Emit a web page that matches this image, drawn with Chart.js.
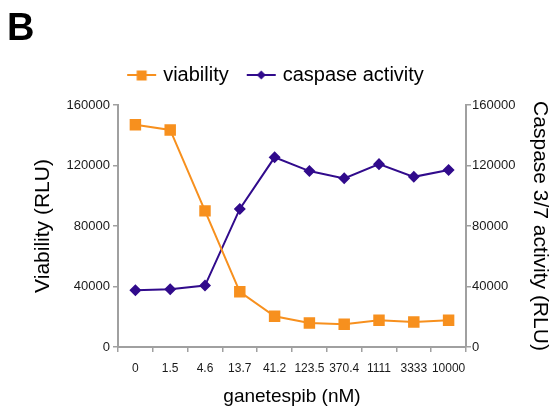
<!DOCTYPE html>
<html>
<head>
<meta charset="utf-8">
<script src="https://cdn.jsdelivr.net/npm/chart.js@4/dist/chart.umd.min.js"></script>
<style>
  html, body { margin: 0; padding: 0; background: #fff; }
  #wrap { width: 554px; height: 411px; position: relative; }
</style>
</head>
<body>
<div id="wrap"><canvas id="c" width="554" height="411"></canvas></div>
<script>
// Ganetespib dose series (nM) and luminescence readouts (RLU)
const doses = ['0', '1.5', '4.6', '13.7', '41.2', '123.5', '370.4', '1111', '3333', '10000'];
const viability = [147000, 143500, 90000, 36500, 20300, 15900, 15000, 17700, 16500, 17700];
const caspase = [37500, 38200, 40600, 91300, 125400, 116300, 111500, 120900, 112500, 117000];
const yTicks = [0, 40000, 80000, 120000, 160000];

const ORANGE = '#f7901e';
const PURPLE = '#310b8c';
const AXIS = '#a0a0a0';
const FONT = "'Liberation Sans', Arial, sans-serif";

// Legend swatch: a short line with the series marker on it (left part left transparent)
function swatch(color, style) {
  const c = document.createElement('canvas');
  c.width = 42; c.height = 16;
  const g = c.getContext('2d');
  g.strokeStyle = color; g.lineWidth = 2;
  g.beginPath(); g.moveTo(12, 8); g.lineTo(41, 8); g.stroke();
  g.fillStyle = color;
  if (style === 'rect') {
    g.fillRect(21.5, 3.5, 10, 10);
  } else {
    g.beginPath(); g.moveTo(26.5, 3.5); g.lineTo(31, 8); g.lineTo(26.5, 12.5); g.lineTo(22, 8); g.closePath(); g.fill();
  }
  return c;
}
const swatches = [swatch(ORANGE, 'rect'), swatch(PURPLE, 'diamond')];

// Extra room under the legend, and a small leftward nudge of the legend row
const legendSpacing = {
  id: 'legendSpacing',
  beforeLayout(chart) {
    const lg = chart.legend;
    if (lg && !lg._extraFit) {
      const orig = lg.fit.bind(lg);
      lg.fit = function () { orig(); this.height += 10; };
      lg._extraFit = true;
    }
  },
  afterLayout(chart) {
    const lg = chart.legend;
    if (lg) { lg.left -= 9; lg.right -= 9; }
  }
};

const yTickStyle = { color: '#1a1a1a', font: { family: FONT, size: 13 } };
const xTickStyle = { color: '#1a1a1a', font: { family: FONT, size: 12 } };
const plain = (v) => String(v);

new Chart(document.getElementById('c'), {
  type: 'line',
  data: {
    labels: doses,
    datasets: [
      {
        label: 'viability', data: viability, yAxisID: 'y',
        borderColor: ORANGE, backgroundColor: ORANGE, borderWidth: 2,
        pointStyle: 'rect', pointRadius: 6.7, pointHoverRadius: 6.7, tension: 0
      },
      {
        label: 'caspase activity', data: caspase, yAxisID: 'y1',
        borderColor: PURPLE, backgroundColor: PURPLE, borderWidth: 2,
        pointStyle: 'rectRot', pointRadius: 4.6, pointHoverRadius: 4.6, tension: 0
      }
    ]
  },
  plugins: [legendSpacing],
  options: {
    responsive: false,
    animation: false,
    layout: { padding: { left: 7, right: 0, top: 0, bottom: 0 } },
    plugins: {
      tooltip: { enabled: false },
      title: {
        display: true, text: 'B', align: 'start', color: '#000',
        font: { family: FONT, size: 38, weight: 'bold' },
        padding: { top: 7, bottom: 2.4 }
      },
      legend: {
        display: true, position: 'top',
        labels: {
          color: '#000', font: { family: FONT, size: 20 },
          usePointStyle: true, pointStyleWidth: 34, boxHeight: 16, padding: 10,
          generateLabels: (chart) => chart.data.datasets.map((d, i) => ({
            text: d.label, pointStyle: swatches[i], datasetIndex: i,
            fillStyle: d.borderColor, strokeStyle: d.borderColor, fontColor: '#000', lineWidth: 0
          }))
        }
      }
    },
    scales: {
      x: {
        offset: true,
        grid: { display: true, drawOnChartArea: false, drawTicks: true, tickLength: 5, color: AXIS, offset: true, lineWidth: 1.5 },
        border: { color: AXIS, width: 2 },
        ticks: { ...xTickStyle, padding: 9, maxRotation: 0, autoSkip: false },
        title: { display: true, text: 'ganetespib (nM)', color: '#000', font: { family: FONT, size: 19 }, padding: { top: 9, bottom: 2.6 } },
        afterFit: (s) => { s.height = 64; }
      },
      y: {
        position: 'left', min: 0, max: 160000,
        afterBuildTicks: (s) => { s.ticks = yTicks.map(v => ({ value: v })); },
        grid: { display: true, drawOnChartArea: false, tickLength: 5, color: AXIS, lineWidth: 1.5 },
        border: { color: AXIS, width: 2 },
        ticks: { ...yTickStyle, padding: 3, callback: plain },
        title: { display: true, text: 'Viability (RLU)', color: '#000', font: { family: FONT, size: 21 }, padding: { top: 23.4, bottom: 0 } },
        afterFit: (s) => { s.width = 111; }
      },
      y1: {
        position: 'right', min: 0, max: 160000,
        afterBuildTicks: (s) => { s.ticks = yTicks.map(v => ({ value: v })); },
        grid: { display: true, drawOnChartArea: false, tickLength: 5, color: AXIS, lineWidth: 1.5 },
        border: { color: AXIS, width: 2 },
        ticks: { ...yTickStyle, padding: 1, callback: plain },
        title: { display: true, text: 'Caspase 3/7 activity (RLU)', color: '#000', font: { family: FONT, size: 21 }, padding: { top: 1.4, bottom: 0 } },
        afterFit: (s) => { s.width = 88; }
      }
    }
  }
});
</script>
</body>
</html>
